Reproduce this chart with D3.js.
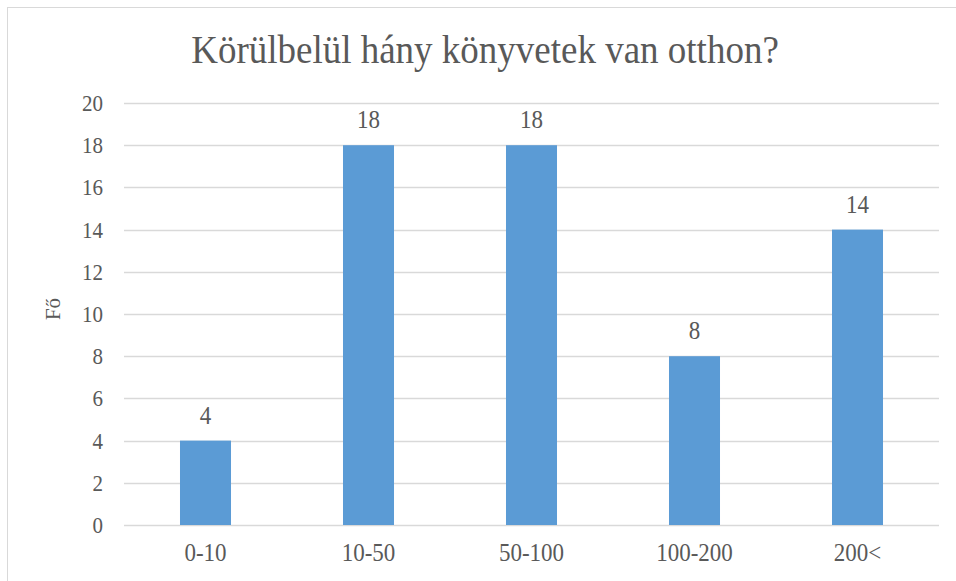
<!DOCTYPE html>
<html>
<head>
<meta charset="utf-8">
<script src="https://cdn.jsdelivr.net/npm/d3@7"></script>
<style>
  body { margin: 0; background: #fff; }
  svg text { font-family: "Liberation Serif", "DejaVu Serif", serif; fill: #595959; }
</style>
</head>
<body>
<svg width="956" height="581"></svg>
<script>
const categories = ["0-10", "10-50", "50-100", "100-200", "200<"];
const values = [4, 18, 18, 8, 14];
const yTicks = [0, 2, 4, 6, 8, 10, 12, 14, 16, 18, 20];
const title = "Körülbelül hány könyvetek van otthon?";
const yLabel = "Fő";

const width = 956, height = 581;
const plotLeft = 124, plotRight = 939, plotTop = 103, plotBottom = 525;
const serif = "'Liberation Serif', 'DejaVu Serif', serif";
const stretch = 1.08; // text in the original is a little taller than wide

const svg = d3.select("svg");

// chart border
svg.append("rect")
  .attr("x", 7.5).attr("y", 7.5)
  .attr("width", width).attr("height", height)
  .attr("fill", "none")
  .attr("stroke", "#d9d9d9")
  .attr("stroke-width", 1);

// scales
const x = d3.scaleBand()
  .domain(categories)
  .range([plotLeft, plotRight])
  .paddingInner(0.687)
  .paddingOuter(0.687 / 2);

const y = d3.scaleLinear()
  .domain([0, 20])
  .range([plotBottom, plotTop]);

// gridlines
svg.append("g")
  .selectAll("line")
  .data(yTicks)
  .enter()
  .append("line")
  .attr("x1", plotLeft)
  .attr("x2", plotRight)
  .attr("y1", d => Math.round(y(d)) + 0.5)
  .attr("y2", d => Math.round(y(d)) + 0.5)
  .attr("stroke", "#d9d9d9")
  .attr("stroke-width", 1.5);

// y tick labels
svg.append("g")
  .selectAll("text")
  .data(yTicks)
  .enter()
  .append("text")
  .attr("transform", d => `translate(103, ${y(d) + 8}) scale(1, ${stretch})`)
  .attr("text-anchor", "end")
  .attr("font-family", serif)
  .attr("font-size", 21)
  .text(d => d);

// bars
svg.append("g")
  .selectAll("rect")
  .data(values)
  .enter()
  .append("rect")
  .attr("x", (d, i) => x(categories[i]))
  .attr("y", d => y(d))
  .attr("width", x.bandwidth())
  .attr("height", d => y(0) - y(d))
  .attr("fill", "#5b9bd5");

// value labels
svg.append("g")
  .selectAll("text")
  .data(values)
  .enter()
  .append("text")
  .attr("transform", (d, i) => `translate(${x(categories[i]) + x.bandwidth() / 2}, ${y(d) - 17}) scale(1, ${stretch})`)
  .attr("text-anchor", "middle")
  .attr("font-family", serif)
  .attr("font-size", 23)
  .text(d => d);

// x labels
svg.append("g")
  .selectAll("text")
  .data(categories)
  .enter()
  .append("text")
  .attr("transform", d => `translate(${x(d) + x.bandwidth() / 2}, 561) scale(1, ${stretch})`)
  .attr("text-anchor", "middle")
  .attr("font-family", serif)
  .attr("font-size", 23)
  .text(d => d);

// title
svg.append("text")
  .attr("transform", `translate(485, 63) scale(1, ${stretch})`)
  .attr("text-anchor", "middle")
  .attr("font-family", serif)
  .attr("font-size", 37)
  .text(title);

// y axis label
svg.append("text")
  .attr("transform", "translate(60, 309) rotate(-90)")
  .attr("text-anchor", "middle")
  .attr("font-family", serif)
  .attr("font-size", 21)
  .text(yLabel);
</script>
</body>
</html>
